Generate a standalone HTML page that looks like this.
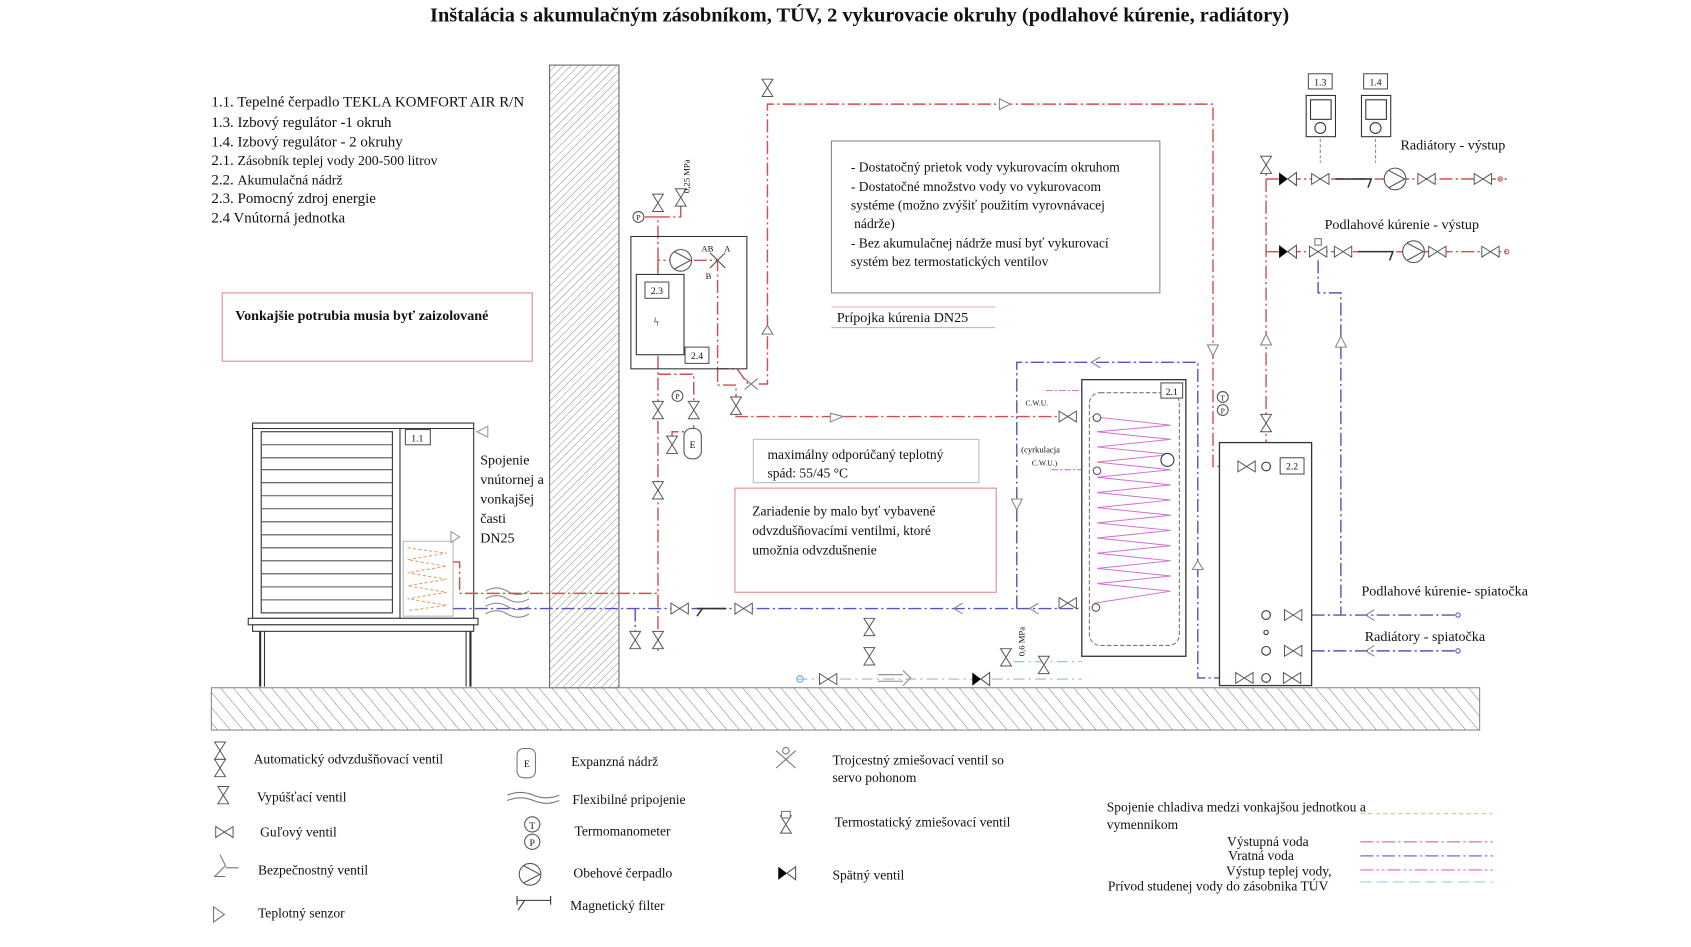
<!DOCTYPE html>
<html><head><meta charset="utf-8"><style>
html,body{margin:0;padding:0;background:#fff;}
svg{display:block;}
text{font-family:"Liberation Serif",serif;fill:#111;}
</style></head><body>
<svg width="1691" height="947" viewBox="0 0 1560 873" preserveAspectRatio="none" xmlns="http://www.w3.org/2000/svg">
<defs>
<pattern id="h1" width="5" height="5" patternUnits="userSpaceOnUse" patternTransform="rotate(45)"><line x1="0" y1="0" x2="0" y2="5" stroke="#777" stroke-width="0.8"/></pattern>
<pattern id="h2" width="9" height="9" patternUnits="userSpaceOnUse" patternTransform="rotate(-40)"><line x1="0" y1="0" x2="0" y2="9" stroke="#666" stroke-width="0.8"/></pattern>
<g id="vh"><path d="M-8,-5 L8,5 L8,-5 L-8,5 Z" fill="#fff" stroke="#555" stroke-width="0.9"/></g>
<g id="vv"><path d="M-5,-8 L5,8 L-5,8 L5,-8 Z" fill="#fff" stroke="#555" stroke-width="0.9"/></g>
<g id="pump"><circle r="10" fill="#fff" stroke="#555" stroke-width="1"/><path d="M-6,-8 L9,0 L-6,8" fill="none" stroke="#555"/></g>
<g id="chk"><path d="M-8,-6 L0,0 L-8,6 Z" fill="#000"/><path d="M0,0 L8,-6 L8,6 Z" fill="#fff" stroke="#555"/></g>
</defs>

<text x="793" y="20" text-anchor="middle" font-size="18.8" font-weight="bold">Inštalácia s akumulačným zásobníkom, TÚV, 2 vykurovacie okruhy (podlahové kúrenie, radiátory)</text>

<g font-size="13.8">
<text x="195" y="98">1.1. Tepelné čerpadlo TEKLA KOMFORT AIR R/N</text>
<text x="195" y="117">1.3. Izbový regulátor -1 okruh</text>
<text x="195" y="135">1.4. Izbový regulátor - 2 okruhy</text>
<text x="195" y="152">2.1.  <tspan font-size="12.8">Zásobník teplej vody 200-500 litrov</tspan></text>
<text x="195" y="170">2.2.  <tspan font-size="12.8">Akumulačná nádrž</tspan></text>
<text x="195" y="187">2.3. Pomocný zdroj energie</text>
<text x="195" y="205">2.4 Vnútorná jednotka</text>
</g>

<!-- wall and ground -->
<rect x="507" y="60" width="64" height="574" fill="url(#h1)" stroke="#666" stroke-width="1"/>
<rect x="195" y="634" width="1170" height="39" fill="url(#h2)" stroke="#888" stroke-width="1"/>

<!-- red note box -->
<rect x="205" y="270" width="286" height="63" fill="none" stroke="#e08a8a" stroke-width="1"/>
<text x="217" y="295" font-size="13" font-weight="bold">Vonkajšie potrubia musia byť zaizolované</text>

<!-- outdoor unit -->
<rect x="233" y="390" width="204" height="180" fill="#fff" stroke="#333" stroke-width="1"/>
<line x1="233" y1="395" x2="437" y2="395" stroke="#333"/>
<rect x="241" y="398" width="121" height="167" fill="#fff" stroke="#333"/>
<g stroke="#555" stroke-width="1">
<line x1="241" y1="410" x2="362" y2="410"/><line x1="241" y1="422" x2="362" y2="422"/><line x1="241" y1="433" x2="362" y2="433"/><line x1="241" y1="445" x2="362" y2="445"/><line x1="241" y1="457" x2="362" y2="457"/><line x1="241" y1="469" x2="362" y2="469"/><line x1="241" y1="481" x2="362" y2="481"/><line x1="241" y1="493" x2="362" y2="493"/><line x1="241" y1="505" x2="362" y2="505"/><line x1="241" y1="517" x2="362" y2="517"/><line x1="241" y1="529" x2="362" y2="529"/><line x1="241" y1="541" x2="362" y2="541"/><line x1="241" y1="553" x2="362" y2="553"/>
</g>
<line x1="369" y1="395" x2="369" y2="570" stroke="#333"/>
<rect x="374" y="396" width="23" height="14" fill="#fff" stroke="#555"/>
<text x="385" y="407" font-size="9" text-anchor="middle" font-family="Liberation Sans">1.1</text>
<rect x="372" y="499" width="46" height="69" fill="#fff" stroke="#bbb"/>
<g stroke="#e8a070" stroke-width="1" stroke-dasharray="3 2" fill="none">
<path d="M376,505 L412,510 L376,516 L412,522 L376,528 L412,534 L376,540 L412,546 L376,552 L412,558 L376,563"/>
</g>
<rect x="229" y="570" width="212" height="6" fill="#fff" stroke="#333"/>
<rect x="233" y="576" width="204" height="6" fill="#fff" stroke="#333"/>
<line x1="240" y1="582" x2="240" y2="633" stroke="#333" stroke-width="2"/><line x1="244" y1="582" x2="244" y2="633" stroke="#333"/>
<line x1="430" y1="582" x2="430" y2="633" stroke="#333"/><line x1="434" y1="582" x2="434" y2="633" stroke="#333" stroke-width="2"/>
<path d="M440,398 L450,393 L450,403 Z" fill="none" stroke="#999"/>
<path d="M416,490 L424,495 L416,500 Z" fill="none" stroke="#999"/>
<g font-size="13"><text x="443" y="428">Spojenie</text><text x="443" y="446">vnútornej a</text><text x="443" y="464">vonkajšej</text><text x="443" y="482">časti</text><text x="443" y="500">DN25</text></g>

<!-- flexible connections -->
<g fill="none" stroke="#888" stroke-width="1">
<path d="M448,545 q10,-6 20,0 t20,0 M448,552 q10,-6 20,0 t20,0"/>
<path d="M448,559 q10,-6 20,0 t20,0 M448,566 q10,-6 20,0 t20,0"/>
</g>

<!-- PIPES red supply -->
<g fill="none" stroke="#d05050" stroke-width="1.3" stroke-dasharray="12 3 2 3">
<path d="M418,518 L424,518 L424,547 L607,547"/>
<path d="M607,600 L607,200 L588,200"/>
<path d="M607,270 L607,240 L620,240"/>
<path d="M640,240 L662,240 L662,340 L680,340 L690,354 M700,354 L708,354 L708,96 L1119,96 L1119,430 L1145,430"/>
<path d="M662,340 L662,355 L679,355 L679,384 L985,384"/>
<path d="M607,345 L640,345 L640,372 M640,392 L640,398 L620,398 L620,410"/>
<path d="M1168,145 L1168,408"/>
<path d="M1168,165 L1390,165"/>
<path d="M1168,232 L1390,232"/>
<path d="M628,190 L628,200 L607,200"/>
</g>
<!-- blue return -->
<g fill="none" stroke="#5555bb" stroke-width="1.3" stroke-dasharray="12 3 2 3">
<path d="M418,561 L998,561"/>
<path d="M586,561 L586,585"/>
<path d="M938,561 L938,334 L1105,334 L1105,625 L1125,625"/>
<path d="M1210,567 L1345,567"/>
<path d="M1210,600 L1345,600"/>
<path d="M1216,240 L1216,270 L1237,270 L1237,567"/>
</g>
<!-- pink hot water -->
<g fill="none" stroke="#d070d0" stroke-width="1" stroke-dasharray="6 2 2 2">
<path d="M965,360 L998,360 M970,433 L1010,433"/>
</g>
<!-- cyan cold water -->
<g fill="none" stroke="#8ac0d8" stroke-width="1" stroke-dasharray="10 4 2 4">
<path d="M735,626 L998,626 M935,610 L998,610"/>
</g>

<!-- indoor unit -->
<rect x="582" y="218" width="107" height="122" fill="none" stroke="#333"/>
<rect x="587" y="253" width="44" height="74" fill="#fff" stroke="#333"/>
<rect x="595" y="260" width="22" height="15" fill="#fff" stroke="#555"/>
<text x="606" y="271" font-size="9" text-anchor="middle" font-family="Liberation Sans">2.3</text>
<rect x="632" y="320" width="22" height="15" fill="#fff" stroke="#555"/>
<text x="643" y="331" font-size="9" text-anchor="middle" font-family="Liberation Sans">2.4</text>
<text x="603" y="300" font-size="11">ϟ</text>
<use href="#pump" x="628" y="240"/>
<path d="M655,233 L669,247 M669,233 L655,247" stroke="#555"/>
<text x="647" y="232" font-size="8" font-family="Liberation Sans">AB</text><text x="668" y="232" font-size="8" font-family="Liberation Sans">A</text><text x="651" y="257" font-size="8" font-family="Liberation Sans">B</text>
<circle cx="589" cy="200" r="5" fill="#fff" stroke="#555"/><text x="589" y="203" font-size="7" text-anchor="middle" font-family="Liberation Sans">P</text>
<use href="#vv" x="607" y="187"/>
<use href="#vv" x="628" y="182"/>
<text x="636" y="178" font-size="8" font-family="Liberation Sans" transform="rotate(-90 636 178)">0,25 MPa</text>
<circle cx="625" cy="365" r="5" fill="#fff" stroke="#555"/><text x="625" y="368" font-size="7" text-anchor="middle" font-family="Liberation Sans">P</text>
<use href="#vv" x="607" y="378"/><use href="#vv" x="640" y="378"/><use href="#vv" x="620" y="410"/><use href="#vv" x="607" y="452"/>
<use href="#vv" x="679" y="374"/>
<path d="M687,349 L699,359 M699,349 L687,359" stroke="#777"/>
<rect x="631" y="395" width="16" height="28" rx="7" fill="#fff" stroke="#555"/><text x="639" y="413" font-size="9" text-anchor="middle" font-family="Liberation Sans">E</text>
<use href="#vv" x="586" y="590"/><use href="#vv" x="607" y="590"/>
<path d="M703,300 L708,308 L713,300 Z" fill="#fff" stroke="#777" transform="rotate(180 708 304)"/>

<!-- note gray box -->
<rect x="767" y="130" width="303" height="140" fill="#fff" stroke="#888"/>
<g font-size="12.5">
<text x="785" y="158">- Dostatočný prietok vody vykurovacím okruhom</text>
<text x="785" y="176">- Dostatočné množstvo vody vo vykurovacom</text>
<text x="785" y="193">systéme (možno zvýšiť použitím vyrovnávacej</text>
<text x="788" y="210">nádrže)</text>
<text x="785" y="228">- Bez akumulačnej nádrže musí byť vykurovací</text>
<text x="785" y="245">systém bez termostatických ventilov</text>
</g>
<text x="772" y="297" font-size="13">Prípojka kúrenia DN25</text>
<line x1="767" y1="283" x2="918" y2="283" stroke="#e8aaaa"/><line x1="767" y1="302" x2="918" y2="302" stroke="#e8aaaa"/>

<path d="M922,91 L932,96 L922,101 Z" fill="#fff" stroke="#888"/>
<path d="M766,381 L778,384 L766,389 Z" fill="#fff" stroke="#888"/>
<use href="#vv" x="708" y="81"/>

<rect x="695" y="405" width="208" height="40" fill="#fff" stroke="#bbb"/>
<text x="708" y="423" font-size="12.5">maximálny odporúčaný teplotný</text>
<text x="708" y="440" font-size="12.5">spád: 55/45 °C</text>

<rect x="678" y="450" width="241" height="96" fill="#fff" stroke="#e08a8a"/>
<g font-size="12.5"><text x="694" y="475">Zariadenie by malo byť vybavené</text><text x="694" y="493">odvzdušňovacími ventilmi, ktoré</text><text x="694" y="511">umožnia odvzdušnenie</text></g>

<!-- valves on return line -->
<use href="#vh" x="627" y="561"/><use href="#vh" x="686" y="561"/>
<path d="M643,561 L670,561 M648,561 L643,568" stroke="#333" stroke-width="1.4" fill="none"/>
<path d="M888,556 L880,561 L888,566" fill="none" stroke="#888"/>
<path d="M958,556 L950,561 L958,566" fill="none" stroke="#888"/>
<use href="#vh" x="985" y="556"/><use href="#vh" x="985" y="384"/>
<use href="#vv" x="802" y="578"/><use href="#vv" x="802" y="605"/>
<path d="M1015,329 L1007,334 L1015,339" fill="none" stroke="#888"/>
<path d="M933,460 L938,470 L943,460 Z" fill="#fff" stroke="#888"/>
<path d="M1100,525 L1105,517 L1110,525 Z" fill="#fff" stroke="#888"/>
<path d="M1114,318 L1119,328 L1124,318 Z" fill="#fff" stroke="#888"/>

<!-- cold water line elements -->
<use href="#vh" x="764" y="626"/>
<path d="M810,622 L833,622 M810,628 L833,628 M833,618 L840,625 L833,632" fill="none" stroke="#888"/>
<use href="#chk" x="905" y="626"/>
<use href="#vv" x="928" y="606"/><use href="#vv" x="963" y="613"/>
<text x="945" y="605" font-size="8" font-family="Liberation Sans" transform="rotate(-90 945 605)">0,6 MPa</text>
<circle cx="738" cy="626" r="3" fill="none" stroke="#6aaad0"/>

<!-- tank 2.1 -->
<rect x="998" y="350" width="96" height="255" fill="#fff" stroke="#333" stroke-width="1.2"/>
<rect x="1005" y="362" width="83" height="233" rx="10" fill="none" stroke="#777" stroke-dasharray="4 2"/>
<rect x="1071" y="353" width="20" height="14" fill="#fff" stroke="#555"/><text x="1081" y="364" font-size="9" text-anchor="middle" font-family="Liberation Sans">2.1</text>
<path d="M1007,384 L1080,392 L1012,398 L1080,405 L1012,412 L1080,419 L1012,426 L1080,433 L1012,440 L1080,447 L1012,454 L1080,461 L1012,468 L1080,475 L1012,482 L1080,489 L1012,496 L1080,503 L1012,510 L1080,517 L1012,524 L1080,531 L1012,538 L1080,545 L1010,556" fill="none" stroke="#d070d0" stroke-width="0.9"/>
<circle cx="1012" cy="385" r="3.5" fill="#fff" stroke="#555"/><circle cx="1012" cy="434" r="3.5" fill="#fff" stroke="#555"/><circle cx="1011" cy="560" r="3.5" fill="#fff" stroke="#555"/>
<circle cx="1077" cy="424" r="6" fill="#fff" stroke="#333"/>
<text x="946" y="374" font-size="7" fill="#d070d0" font-family="Liberation Sans">C.W.U.</text>
<text x="942" y="417" font-size="8" fill="#d070d0" font-family="Liberation Sans">(cyrkulacja</text>
<text x="952" y="429" font-size="7" fill="#d070d0" font-family="Liberation Sans">C.W.U.)</text>
<circle cx="1128" cy="366" r="5" fill="#fff" stroke="#555"/><text x="1128" y="369" font-size="7" text-anchor="middle" font-family="Liberation Sans">T</text>
<circle cx="1128" cy="378" r="5" fill="#fff" stroke="#555"/><text x="1128" y="381" font-size="7" text-anchor="middle" font-family="Liberation Sans">P</text>

<!-- tank 2.2 -->
<rect x="1125" y="408" width="85" height="224" fill="#fff" stroke="#333" stroke-width="1.2"/>
<rect x="1181" y="422" width="22" height="15" fill="#fff" stroke="#555"/><text x="1192" y="433" font-size="9" text-anchor="middle" font-family="Liberation Sans">2.2</text>
<use href="#vh" x="1150" y="430"/><circle cx="1168" cy="430" r="4" fill="#fff" stroke="#333"/>
<circle cx="1168" cy="567" r="4" fill="#fff" stroke="#333"/><circle cx="1168" cy="583" r="2" fill="#fff" stroke="#333"/><circle cx="1168" cy="600" r="4" fill="#fff" stroke="#333"/><circle cx="1168" cy="625" r="4" fill="#fff" stroke="#333"/>
<use href="#vh" x="1193" y="567"/><use href="#vh" x="1193" y="600"/><use href="#vh" x="1148" y="625"/><use href="#vh" x="1192" y="625"/>
<use href="#vv" x="1168" y="390"/>
<path d="M1163,318 L1168,308 L1173,318 Z" fill="#fff" stroke="#888"/>
<path d="M1232,320 L1237,310 L1242,320 Z" fill="#fff" stroke="#888"/>
<path d="M1268,562 L1260,567 L1268,572 M1268,595 L1260,600 L1268,605" fill="none" stroke="#888"/>
<circle cx="1345" cy="567" r="2" fill="none" stroke="#5555bb"/><circle cx="1345" cy="600" r="2" fill="none" stroke="#5555bb"/>
<text x="1256" y="549" font-size="13">Podlahové kúrenie- spiatočka</text>
<text x="1259" y="591" font-size="13">Radiátory -   spiatočka</text>

<!-- regulators -->
<rect x="1207" y="68" width="22" height="14" fill="#fff" stroke="#555"/><text x="1218" y="79" font-size="9" text-anchor="middle" font-family="Liberation Sans">1.3</text>
<rect x="1258" y="68" width="22" height="14" fill="#fff" stroke="#555"/><text x="1269" y="79" font-size="9" text-anchor="middle" font-family="Liberation Sans">1.4</text>
<rect x="1205" y="88" width="27" height="38" fill="#fff" stroke="#333"/><rect x="1209" y="92" width="19" height="18" fill="#fff" stroke="#333"/><circle cx="1218" cy="118" r="5" fill="#fff" stroke="#333"/>
<rect x="1256" y="88" width="27" height="38" fill="#fff" stroke="#333"/><rect x="1260" y="92" width="19" height="18" fill="#fff" stroke="#333"/><circle cx="1269" cy="118" r="5" fill="#fff" stroke="#333"/>
<line x1="1218" y1="128" x2="1218" y2="150" stroke="#888" stroke-dasharray="3 2"/><line x1="1269" y1="128" x2="1269" y2="150" stroke="#888" stroke-dasharray="3 2"/>
<text x="1292" y="138" font-size="13">Radiátory - výstup</text>
<text x="1222" y="211" font-size="13">Podlahové kúrenie -  výstup</text>
<use href="#vv" x="1168" y="152"/>
<use href="#chk" x="1188" y="165"/><use href="#vh" x="1218" y="165"/>
<path d="M1232,165 L1265,165 L1262,173" fill="none" stroke="#333" stroke-width="1.4"/>
<use href="#pump" x="1287" y="165"/><use href="#vh" x="1316" y="165"/><use href="#vh" x="1368" y="165"/>
<circle cx="1384" cy="165" r="2" fill="none" stroke="#d05050"/>
<use href="#chk" x="1188" y="232"/><use href="#vh" x="1216" y="232"/><rect x="1213" y="220" width="6" height="6" fill="#fff" stroke="#777"/><use href="#vh" x="1239" y="232"/>
<path d="M1253,232 L1285,232 L1282,240" fill="none" stroke="#333" stroke-width="1.4"/>
<use href="#pump" x="1304" y="232"/><use href="#vh" x="1326" y="232"/><use href="#vh" x="1375" y="232"/>
<circle cx="1390" cy="232" r="2" fill="none" stroke="#d05050"/>

<!-- LEGEND -->
<g font-size="12.5">
<use href="#vv" x="203" y="692"/><use href="#vv" x="203" y="708"/>
<text x="234" y="704">Automatický odvzdušňovací ventil</text>
<use href="#vv" x="206" y="733"/><text x="237" y="739">Vypúšťací ventil</text>
<use href="#vh" x="207" y="767"/><text x="240" y="771">Guľový ventil</text>
<path d="M203,788 L208,798 L198,808 L208,808 M208,800 L220,800" fill="none" stroke="#777"/><text x="238" y="806">Bezpečnostný ventil</text>
<path d="M197,836 L207,843 L197,850 Z" fill="none" stroke="#777"/><text x="238" y="846">Teplotný senzor</text>

<rect x="477" y="690" width="17" height="27" rx="6" fill="#fff" stroke="#777"/><text x="486" y="707" font-size="9" text-anchor="middle" font-family="Liberation Sans">E</text>
<text x="527" y="706">Expanzná nádrž</text>
<path d="M468,733 q12,-5 24,0 t24,0 M468,738 q12,-5 24,0 t24,0" fill="none" stroke="#777"/>
<text x="528" y="741">Flexibilné pripojenie</text>
<circle cx="491" cy="760" r="7" fill="#fff" stroke="#555"/><text x="491" y="764" font-size="9" text-anchor="middle" font-family="Liberation Sans">T</text>
<circle cx="491" cy="776" r="7" fill="#fff" stroke="#555"/><text x="491" y="780" font-size="9" text-anchor="middle" font-family="Liberation Sans">P</text>
<text x="530" y="770">Termomanometer</text>
<use href="#pump" x="489" y="806"/><text x="529" y="809">Obehové čerpadlo</text>
<path d="M477,830 L508,830 M477,826 L477,834 M508,826 L508,834 M484,830 L478,839" fill="none" stroke="#333"/>
<text x="526" y="839">Magnetický filter</text>

<path d="M716,692 L734,708 M734,692 L716,708" stroke="#777"/><circle cx="725" cy="692" r="3" fill="none" stroke="#777"/>
<text x="768" y="705">Trojcestný zmiešovací ventil so</text><text x="768" y="721">servo pohonom</text>
<use href="#vv" x="725" y="760"/><rect x="721" y="748" width="8" height="6" fill="#fff" stroke="#777"/>
<text x="770" y="762">Termostatický zmiešovací ventil</text>
<use href="#chk" x="726" y="805"/><text x="768" y="811">Spätný ventil</text>

<text x="1021" y="748">Spojenie chladiva medzi vonkajšou jednotkou a</text>
<text x="1021" y="764">vymennikom</text>
<text x="1132" y="780">Výstupná voda</text>
<text x="1133" y="793">Vratná voda</text>
<text x="1131" y="807">Výstup teplej vody,</text>
<text x="1022" y="821">Prívod studenej vody do zásobnika TÚV</text>
</g>
<g fill="none" stroke-width="1.3">
<line x1="1255" y1="750" x2="1377" y2="750" stroke="#e8c8a0" stroke-dasharray="4 3"/>
<line x1="1255" y1="776" x2="1377" y2="776" stroke="#d88" stroke-dasharray="12 3 2 3"/>
<line x1="1255" y1="789" x2="1377" y2="789" stroke="#88c" stroke-dasharray="12 3 2 3"/>
<line x1="1255" y1="802" x2="1377" y2="802" stroke="#e7e" stroke-dasharray="12 3 2 3 2 3"/>
<line x1="1255" y1="813" x2="1377" y2="813" stroke="#acd8e8" stroke-dasharray="10 5"/>
</g>
</svg>
</body></html>
